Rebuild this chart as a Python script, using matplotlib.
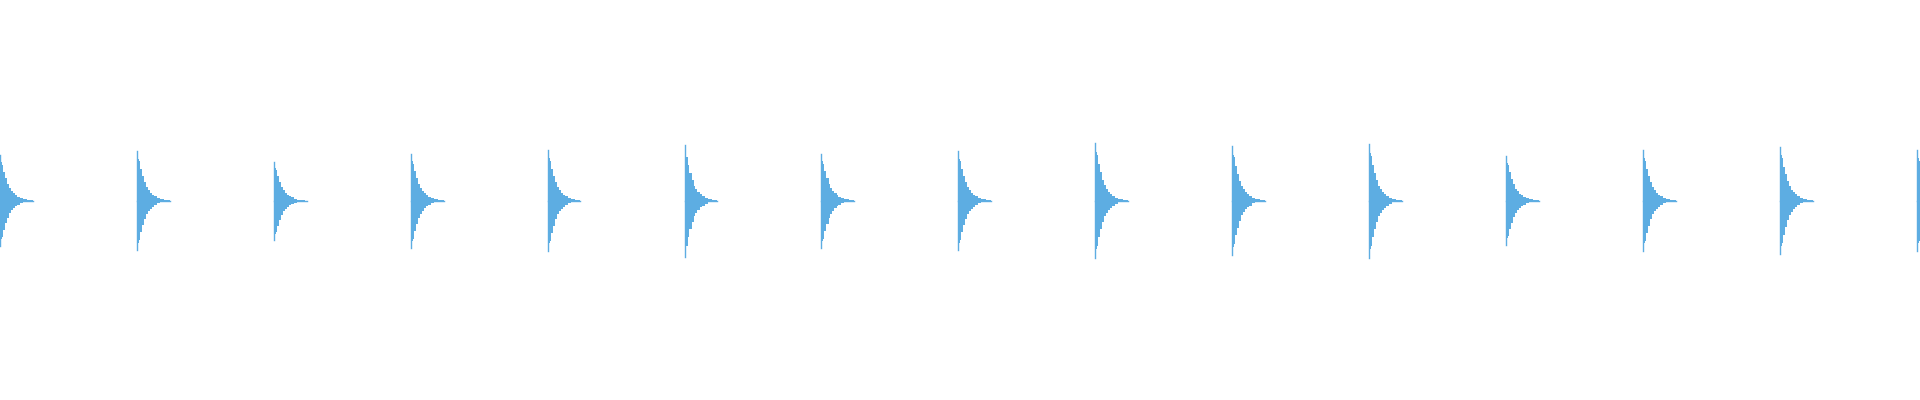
"""Metronome click track: decaying pulses on a waveform strip."""

import numpy as np
import matplotlib
matplotlib.use("Agg")
import matplotlib.pyplot as plt

# beat onsets in seconds (120 bpm)
beat_times = [0.0, 0.5, 1.0, 1.5, 2.0, 2.5, 3.0, 3.5, 4.0, 4.5, 5.0, 5.5, 6.0, 6.5, 7.0]
# peak amplitude of each click, above and below zero
peak_up = [0.227, 0.247, 0.192, 0.232, 0.252, 0.277, 0.232, 0.247, 0.287, 0.272, 0.282, 0.222, 0.252, 0.267, 0.252]
peak_down = [0.228, 0.247, 0.197, 0.238, 0.252, 0.283, 0.238, 0.247, 0.287, 0.272, 0.287, 0.222, 0.252, 0.267, 0.252]
# decay envelope of one click: offset in ms, relative level
decay_ms = [0, 3, 7, 11, 18, 26, 33, 40, 47, 55, 62, 73, 84, 100, 113, 120]
decay_level = [1.0, 0.85, 0.8, 0.64, 0.5, 0.37, 0.27, 0.21, 0.16, 0.12, 0.09, 0.05, 0.03, 0.01, 0.005, 0.0]

WAVE_COLOR = "#5DADE2"


def main() -> None:
    fig = plt.figure(figsize=(19.2, 4.0), dpi=100)
    ax = fig.add_axes([0, 0, 1, 1])

    offsets = np.array(decay_ms) / 1000.0
    levels = np.array(decay_level)
    for t0, up, down in zip(beat_times, peak_up, peak_down):
        xs = t0 + offsets
        ax.fill_between(xs, -levels * down, levels * up, step="post",
                        color=WAVE_COLOR, linewidth=0)
        ax.plot([t0, t0 + offsets[-1]], [0, 0], color=WAVE_COLOR, linewidth=1.0)
        ax.plot([t0, t0], [-down, up], color=WAVE_COLOR, linewidth=1.0)

    ax.set_xlim(0, 7.012)
    ax.set_ylim(-1.0, 1.007)
    ax.axis("off")
    fig.savefig("out.png", dpi=100, facecolor="white")


if __name__ == "__main__":
    main()
